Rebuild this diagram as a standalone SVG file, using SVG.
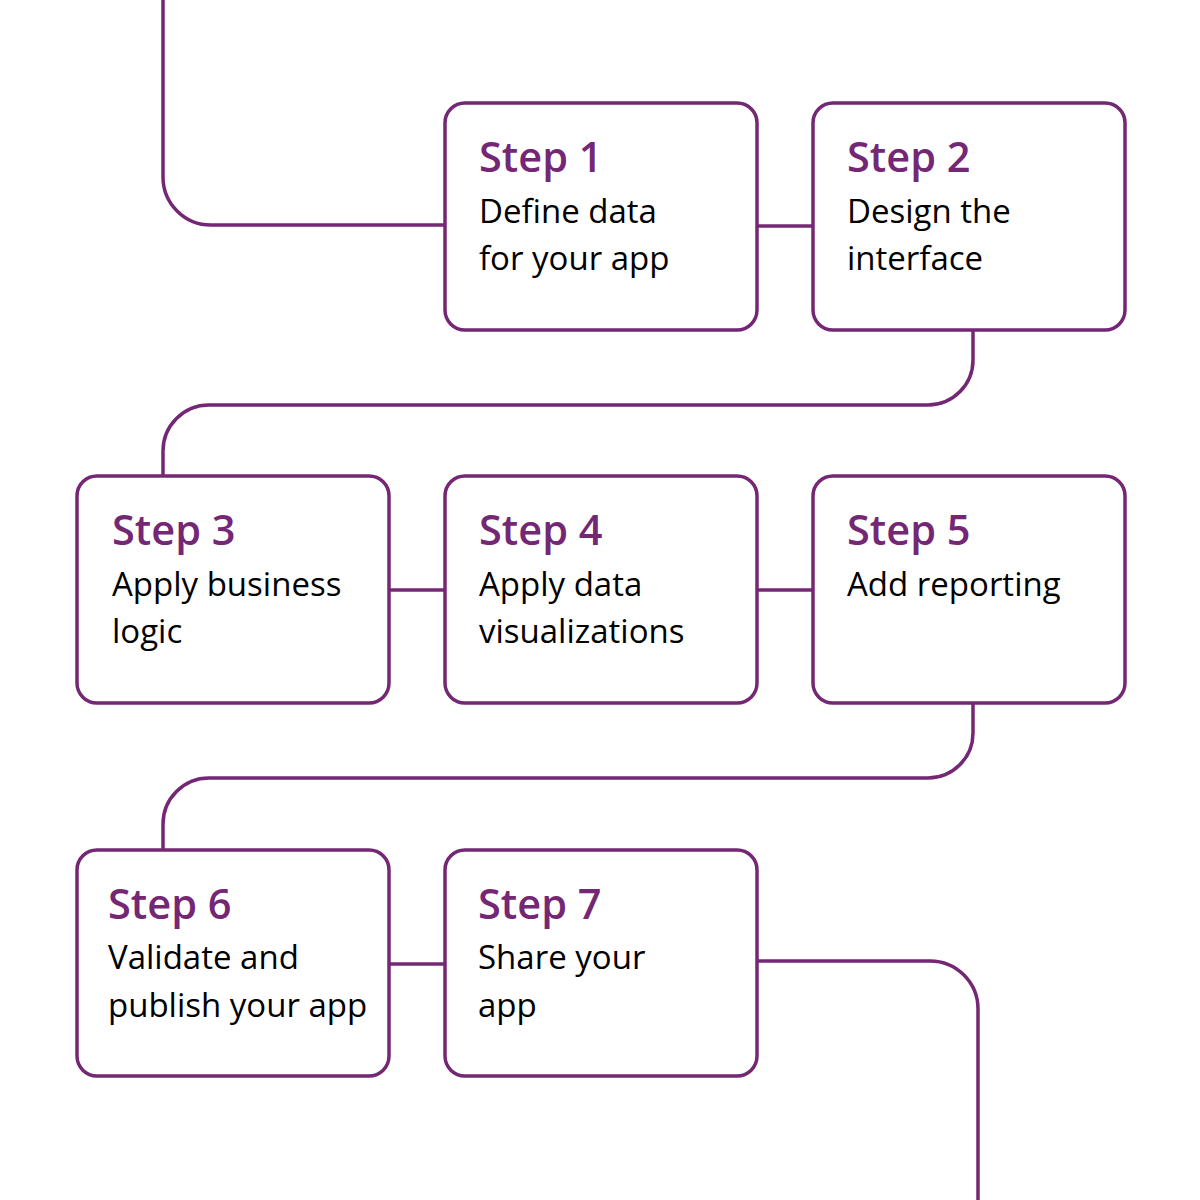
<svg xmlns="http://www.w3.org/2000/svg" width="1200" height="1200" viewBox="0 0 1200 1200">
<style>
.box{fill:#ffffff;stroke:#742774;stroke-width:3.5}
.con{fill:none;stroke:#742774;stroke-width:3.5}
.t{font-family:"Open Sans","Noto Sans",sans-serif;font-weight:600;font-size:41.5px;fill:#742774}
.b{font-family:"Open Sans","Noto Sans",sans-serif;font-weight:400;font-size:33px;fill:#000000}
</style>
<rect width="1200" height="1200" fill="#ffffff"/>
<g id="connectors">
<path class="con" d="M163 0 V177 A48 48 0 0 0 211 225 H445"/>
<path class="con" d="M757 226 H813"/>
<path class="con" d="M973 330 V360 A45 45 0 0 1 928 405 H209 A46 46 0 0 0 163 451 V476"/>
<path class="con" d="M389 590 H445"/>
<path class="con" d="M757 590 H813"/>
<path class="con" d="M973 703 V733 A45 45 0 0 1 928 778 H209 A46 46 0 0 0 163 824 V850"/>
<path class="con" d="M389 964 H445"/>
<path class="con" d="M757 961 H930 A48 48 0 0 1 978 1009 V1200"/>
</g>
<g id="step1">
<rect class="box" x="445" y="103" width="312" height="227" rx="20"/>
<text class="t" x="479" y="172">Step 1</text>
<text class="b" x="479" y="223">Define data</text>
<text class="b" x="479" y="270">for your app</text>
</g>
<g id="step2">
<rect class="box" x="813" y="103" width="312" height="227" rx="20"/>
<text class="t" x="847" y="172">Step 2</text>
<text class="b" x="847" y="223">Design the</text>
<text class="b" x="847" y="270">interface</text>
</g>
<g id="step3">
<rect class="box" x="77" y="476" width="312" height="227" rx="20"/>
<text class="t" x="112" y="545">Step 3</text>
<text class="b" x="112" y="596">Apply business</text>
<text class="b" x="112" y="643">logic</text>
</g>
<g id="step4">
<rect class="box" x="445" y="476" width="312" height="227" rx="20"/>
<text class="t" x="479" y="545">Step 4</text>
<text class="b" x="479" y="596">Apply data</text>
<text class="b" x="479" y="643">visualizations</text>
</g>
<g id="step5">
<rect class="box" x="813" y="476" width="312" height="227" rx="20"/>
<text class="t" x="847" y="545">Step 5</text>
<text class="b" x="847" y="596">Add reporting</text>
</g>
<g id="step6">
<rect class="box" x="77" y="850" width="312" height="226" rx="20"/>
<text class="t" x="108" y="919">Step 6</text>
<text class="b" x="108" y="969">Validate and</text>
<text class="b" x="108" y="1017">publish your app</text>
</g>
<g id="step7">
<rect class="box" x="445" y="850" width="312" height="226" rx="20"/>
<text class="t" x="478" y="919">Step 7</text>
<text class="b" x="478" y="969">Share your</text>
<text class="b" x="478" y="1017">app</text>
</g>
</svg>
